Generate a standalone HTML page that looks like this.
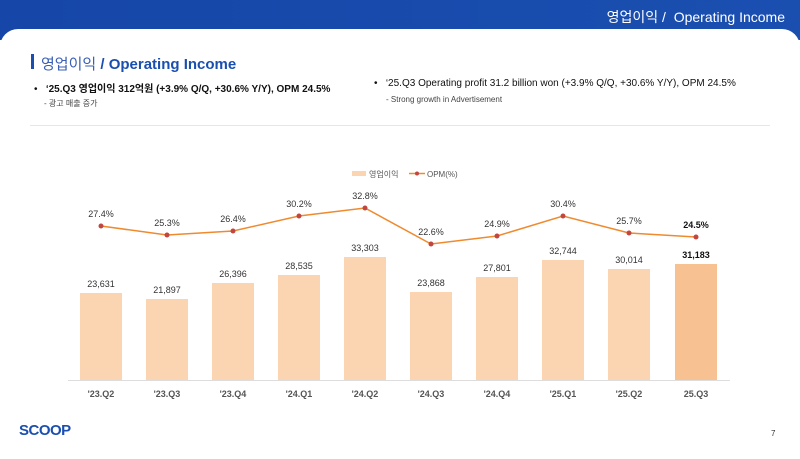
<!DOCTYPE html>
<html><head><meta charset="utf-8"><style>
body{margin:0;width:800px;height:449px;overflow:hidden;background:#fff;font-family:"Liberation Sans","Noto Sans CJK KR",sans-serif;}
.top{position:absolute;left:0;top:0;width:800px;height:40px;background:linear-gradient(90deg,#1546a8,#1a4fb0);}
.card{position:absolute;left:0;top:29px;width:800px;height:430px;background:#fff;border-radius:18px 18px 0 0;}
.t{position:absolute;white-space:nowrap;}
</style></head><body>
<div class="top"></div>
<div class="t" style="right:15px;top:7px;color:#fff;font-size:14px;">영업이익 /&nbsp; Operating Income</div>
<div class="card"></div>
<div style="position:absolute;left:31px;top:54px;width:3px;height:15px;background:#1a4fb0"></div>
<div class="t" style="left:41px;top:53px;font-size:15px;color:#1a4fb0;"><span style="color:#3a5fb5">영업이익</span> <b>/ Operating Income</b></div>
<div class="t" style="left:34px;top:80px;font-size:10px;color:#111;">•&nbsp;&nbsp; <b>‘25.Q3 영업이익 312억원 (+3.9% Q/Q, +30.6% Y/Y), OPM 24.5%</b></div>
<div class="t" style="left:44px;top:98px;font-size:8px;color:#444;">- 광고 매출 증가</div>
<div class="t" style="left:374px;top:78px;font-size:10px;color:#111;">•&nbsp;&nbsp; ‘25.Q3 Operating profit 31.2 billion won (+3.9% Q/Q, +30.6% Y/Y), OPM 24.5%</div>
<div class="t" style="left:386px;top:95px;font-size:8px;color:#444;">- Strong growth in Advertisement</div>
<div style="position:absolute;left:30px;top:125px;width:740px;height:1px;background:#e6e6e6"></div>
<div class="t" style="left:19px;top:422px;font-size:15px;font-weight:bold;color:#1a4fb0;letter-spacing:-0.5px;">SCOOP</div>
<div class="t" style="left:771px;top:429px;font-size:8px;color:#333;">7</div>
<svg style="position:absolute;left:0;top:0" width="800" height="449" font-family="Liberation Sans, Noto Sans CJK KR, sans-serif">
<rect x="352" y="171" width="14" height="5" fill="#fbd5b2"/>
<text x="369" y="177" font-size="8" fill="#555">영업이익</text>
<line x1="409" y1="173.5" x2="425" y2="173.5" stroke="#ef8a2e" stroke-width="1.5"/><circle cx="417" cy="173.5" r="2" fill="#c0463f"/>
<text x="427" y="177" font-size="8" fill="#555">OPM(%)</text>
<line x1="68" y1="380.5" x2="730" y2="380.5" stroke="#ddd"/>
<g fill="#fbd5b2">
<rect x="80" y="293" width="42" height="87"/><rect x="146" y="299" width="42" height="81"/><rect x="212" y="283" width="42" height="97"/><rect x="278" y="275" width="42" height="105"/><rect x="344" y="257" width="42" height="123"/><rect x="410" y="292" width="42" height="88"/><rect x="476" y="277" width="42" height="103"/><rect x="542" y="260" width="42" height="120"/><rect x="608" y="269" width="42" height="111"/><rect x="675" y="264" width="42" height="116" fill="#f8c191"/>
</g>
<g font-size="9" fill="#333" text-anchor="middle">
<text x="101" y="287">23,631</text><text x="167" y="293">21,897</text><text x="233" y="277">26,396</text><text x="299" y="269">28,535</text><text x="365" y="251">33,303</text><text x="431" y="286">23,868</text><text x="497" y="271">27,801</text><text x="563" y="254">32,744</text><text x="629" y="263">30,014</text><text x="696" y="258" font-weight="bold" fill="#111">31,183</text>
<text x="101" y="217">27.4%</text><text x="167" y="226">25.3%</text><text x="233" y="222">26.4%</text><text x="299" y="207">30.2%</text><text x="365" y="199">32.8%</text><text x="431" y="235">22.6%</text><text x="497" y="227">24.9%</text><text x="563" y="207">30.4%</text><text x="629" y="224">25.7%</text><text x="696" y="228" font-weight="bold" fill="#111">24.5%</text>
</g>
<polyline points="101,226 167,235 233,231 299,216 365,208 431,244 497,236 563,216 629,233 696,237" fill="none" stroke="#ef8a2e" stroke-width="1.5"/>
<g fill="#c0463f"><circle cx="101" cy="226" r="2.5"/><circle cx="167" cy="235" r="2.5"/><circle cx="233" cy="231" r="2.5"/><circle cx="299" cy="216" r="2.5"/><circle cx="365" cy="208" r="2.5"/><circle cx="431" cy="244" r="2.5"/><circle cx="497" cy="236" r="2.5"/><circle cx="563" cy="216" r="2.5"/><circle cx="629" cy="233" r="2.5"/><circle cx="696" cy="237" r="2.5"/></g>
<g font-size="9" fill="#555" text-anchor="middle" font-weight="bold">
<text x="101" y="397">'23.Q2</text><text x="167" y="397">'23.Q3</text><text x="233" y="397">'23.Q4</text><text x="299" y="397">'24.Q1</text><text x="365" y="397">'24.Q2</text><text x="431" y="397">'24.Q3</text><text x="497" y="397">'24.Q4</text><text x="563" y="397">'25.Q1</text><text x="629" y="397">'25.Q2</text><text x="696" y="397">25.Q3</text>
</g>
</svg>
</body></html>
